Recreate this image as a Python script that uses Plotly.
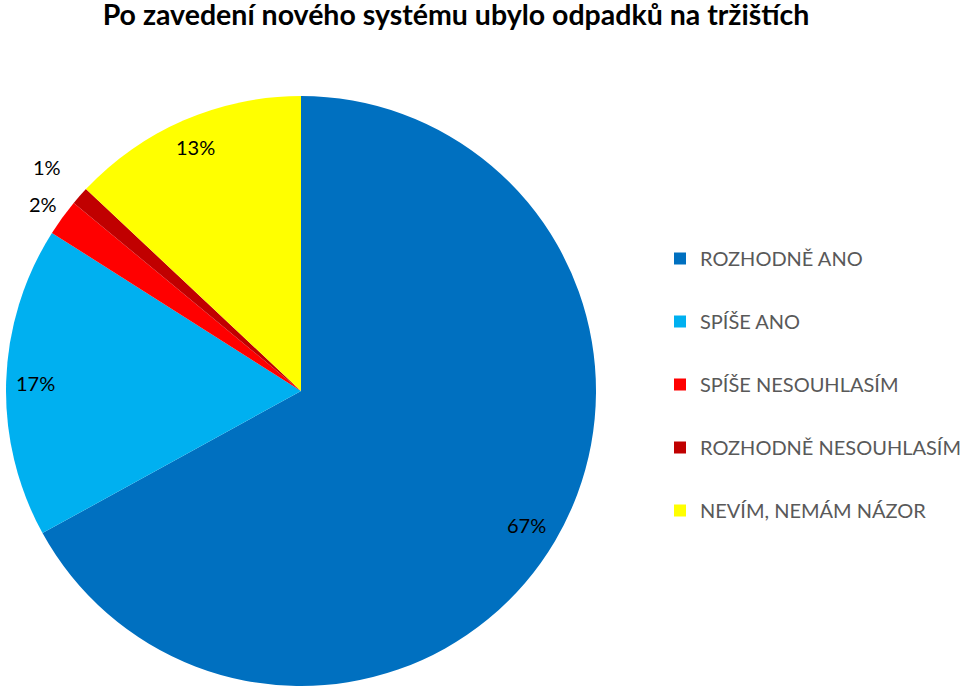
import math
import plotly.graph_objects as go

# data
labels = ["ROZHODNĚ ANO", "SPÍŠE ANO", "SPÍŠE NESOUHLASÍM",
          "ROZHODNĚ NESOUHLASÍM", "NEVÍM, NEMÁM NÁZOR"]
values = [67, 17, 2, 1, 13]
colors = ["#0070C0", "#00B0F0", "#FF0000", "#C00000", "#FFFF00"]

# how far out each percentage label sits (fraction of radius)
label_radius = [0.89, 0.90, 1.08, 1.15, 0.90]

W, H = 960, 689
cx, cy, R = 301, 391, 295  # pie centre and radius in pixels

fig = go.Figure()

fig.add_trace(go.Pie(
    labels=labels,
    values=values,
    sort=False,
    direction="clockwise",
    rotation=0,
    marker=dict(colors=colors, line=dict(width=0)),
    textinfo="none",
    showlegend=False,
    domain=dict(x=[(cx - R) / W, (cx + R) / W],
                y=[1 - (cy + R) / H, 1 - (cy - R) / H]),
))

# legend entries, one group each so they can be spaced out
for lab, col in zip(labels, colors):
    fig.add_trace(go.Scatter(
        x=[None], y=[None], mode="markers", name=lab,
        marker=dict(symbol="square", size=12, color=col),
        legendgroup=lab, showlegend=True,
    ))

# percentage labels placed from the slice angles
total = sum(values)
cum = 0
annotations = []
for v, f in zip(values, label_radius):
    mid = (cum + v / 2) / total
    ang = math.radians(90 - 360 * mid)
    px = cx + R * f * math.cos(ang)
    py = cy - R * f * math.sin(ang)
    annotations.append(dict(
        x=px / W, y=1 - py / H, xref="paper", yref="paper",
        text=f"{v}%", showarrow=False,
        font=dict(family="Lato", size=20, color="#000000"),
        xanchor="center", yanchor="middle",
    ))
    cum += v

fig.update_layout(
    width=W, height=H,
    margin=dict(l=0, r=0, t=0, b=0, autoexpand=False),
    paper_bgcolor="white",
    plot_bgcolor="white",
    xaxis=dict(visible=False),
    yaxis=dict(visible=False),
    title=dict(
        text="<b>Po zavedení nového systému ubylo odpadků na tržištích</b>",
        x=456 / W, xanchor="center", y=1 - 15 / H, yanchor="middle",
        font=dict(family="Lato", size=28.5, color="#000000"),
    ),
    legend=dict(
        x=(700 - 40) / W, xanchor="left",
        y=1 - 239 / H, yanchor="top",
        font=dict(family="Lato", size=20, color="#595959"),
        tracegroupgap=34,
        itemclick=False, itemdoubleclick=False,
        bgcolor="rgba(0,0,0,0)",
    ),
    annotations=annotations,
)

fig.write_html(
    "out.html",
    config={"displayModeBar": False},
    post_script="document.body.style.margin='0';document.body.style.overflow='hidden';",
)
